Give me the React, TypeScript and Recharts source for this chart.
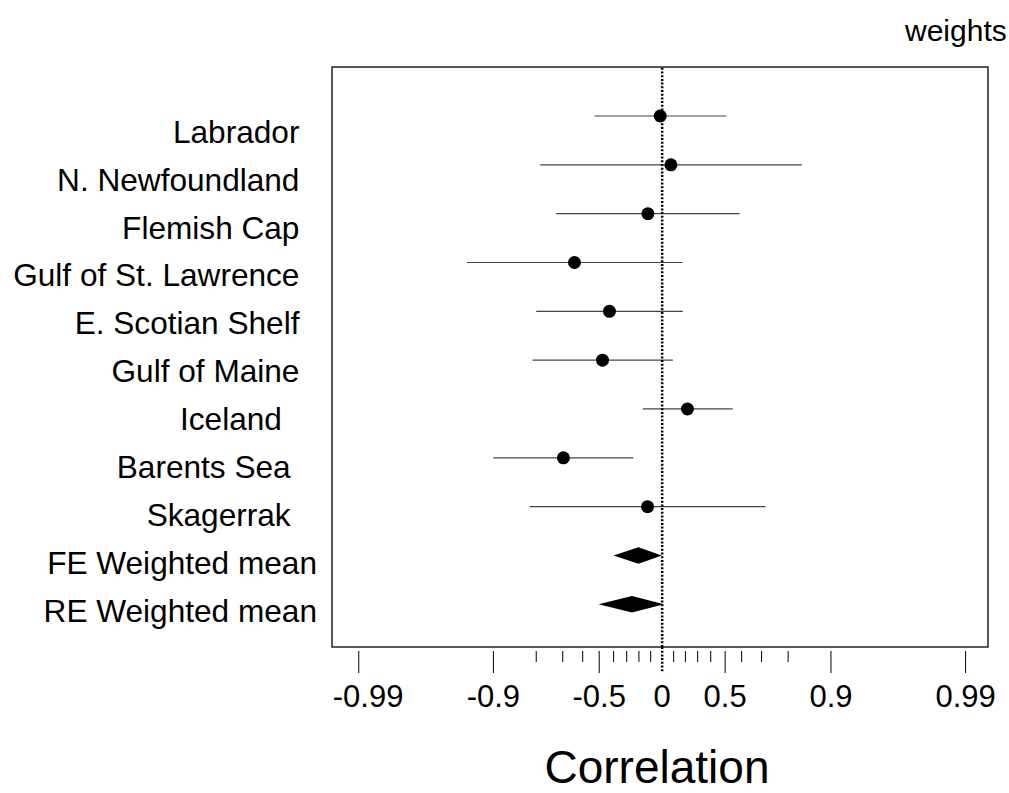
import { ComposedChart, Scatter, Area, XAxis, YAxis, ReferenceLine, ReferenceArea } from "recharts";

// study rows, top to bottom
const studies = [
  "Labrador  ",
  "N. Newfoundland  ",
  "Flemish Cap  ",
  "Gulf of St. Lawrence  ",
  "E. Scotian Shelf  ",
  "Gulf of Maine  ",
  "Iceland    ",
  "Barents Sea   ",
  "Skagerrak   ",
];
const estimate = [-0.017, 0.076, -0.124, -0.644, -0.43, -0.478, 0.217, -0.697, -0.127];
const lower = [-0.53, -0.787, -0.728, -0.936, -0.8, -0.811, -0.167, -0.9, -0.82];
const upper = [0.507, 0.839, 0.588, 0.175, 0.178, 0.093, 0.548, -0.248, 0.717];

// pooled estimates, drawn as diamonds
const pooledNames = ["FE Weighted mean", "RE Weighted mean"];
const pooledEst = [-0.204, -0.258];
const pooledLower = [-0.401, -0.504];
const pooledUpper = [-0.003, 0.017];

const majorTicks = [-0.99, -0.9, -0.5, 0, 0.5, 0.9, 0.99];
const majorLabels = ["-0.99", "-0.9", "-0.5", "0", "0.5", "0.9", "0.99"];
const minorTicks = [-0.8, -0.7, -0.6, -0.4, -0.3, -0.2, -0.1, 0.1, 0.2, 0.3, 0.4, 0.6, 0.7, 0.8];

const rowLabels = [...studies, ...pooledNames];
const FONT = "'Liberation Sans', Arial, Helvetica, sans-serif";
const X_DOMAIN: [number, number] = [-2.88, 2.842];
const Y_DOMAIN: [number, number] = [-1.004, 10.875];
const DIAMOND_H = 0.17;

// everything is plotted on Fisher's z scale
const fz = (r: number) => Math.atanh(r);

const points = estimate.map((r, i) => ({ z: fz(r), row: i }));
const intervals = studies.map((_, i) => ({ lo: fz(lower[i]), hi: fz(upper[i]), row: i }));
const diamonds = pooledNames.map((_, k) => {
  const row = studies.length + k;
  return [
    { z: fz(pooledLower[k]), band: [row, row] },
    { z: fz(pooledEst[k]), band: [row - DIAMOND_H, row + DIAMOND_H] },
    { z: fz(pooledUpper[k]), band: [row, row] },
  ];
});
const xTicks = [...majorTicks, ...minorTicks].map(fz);

function XTick(props: any) {
  const { x, y, payload } = props;
  const r = Math.tanh(payload.value);
  const idx = majorTicks.findIndex((m) => Math.abs(m - r) < 1e-6);
  if (idx < 0) {
    return <line x1={x} x2={x} y1={y + 4} y2={y + 15} stroke="#000" strokeWidth={1} />;
  }
  const zero = majorTicks[idx] === 0;
  return (
    <g>
      <line
        x1={x}
        x2={x}
        y1={zero ? y : y + 4}
        y2={y + 26}
        stroke="#000"
        strokeWidth={zero ? 2.5 : 1}
        strokeDasharray={zero ? "2 1.7" : undefined}
      />
      <text
        x={idx === 0 ? x - 26 : x}
        y={y + 60}
        textAnchor={idx === 0 ? "start" : "middle"}
        fontSize={31}
        fontFamily={FONT}
        fill="#000"
      >
        {majorLabels[idx]}
      </text>
    </g>
  );
}

function YTick(props: any) {
  const { x, y, payload } = props;
  const i = payload.value as number;
  return (
    <text
      x={x - 15}
      y={y + 26.6 - 0.88 * i}
      textAnchor="end"
      fontSize={31.6}
      fontFamily={FONT}
      fill="#000"
      style={{ whiteSpace: "pre" }}
    >
      {rowLabels[i]}
    </text>
  );
}

export default function App() {
  return (
    <div style={{ position: "absolute", left: 0, top: 0, width: 1009, height: 793, background: "#fff" }}>
      <svg width={1009} height={60} style={{ position: "absolute", left: 0, top: 0 }}>
        <text x={905} y={41} fontSize={30} fontFamily={FONT} fill="#000">
          weights
        </text>
      </svg>
      <ComposedChart
        width={1009}
        height={793}
        margin={{ top: 67, right: 21, bottom: 0, left: 0 }}
        style={{ position: "absolute", left: 0, top: 0 }}
      >
        <XAxis
          type="number"
          dataKey="z"
          domain={X_DOMAIN}
          allowDataOverflow
          ticks={xTicks}
          interval={0}
          height={146}
          axisLine={false}
          tickLine={false}
          tickSize={0}
          tickMargin={0}
          tick={<XTick />}
          label={({ viewBox }: any) => (
            <text
              x={viewBox.x + viewBox.width / 2 - 3}
              y={viewBox.y + 136}
              textAnchor="middle"
              fontSize={46}
              fontFamily={FONT}
              fill="#000"
            >
              Correlation
            </text>
          )}
        />
        <YAxis
          type="number"
          dataKey="row"
          domain={Y_DOMAIN}
          reversed
          allowDataOverflow
          ticks={rowLabels.map((_, i) => i)}
          interval={0}
          width={332}
          axisLine={false}
          tickLine={false}
          tickSize={0}
          tickMargin={0}
          tick={<YTick />}
        />
        <ReferenceArea y1={Y_DOMAIN[0]} y2={Y_DOMAIN[1]} fill="none" stroke="#222" strokeWidth={1.5} />
        {intervals.map((c) => (
          <ReferenceLine
            key={c.row}
            segment={[
              { x: c.lo, y: c.row },
              { x: c.hi, y: c.row },
            ]}
            stroke="#444"
            strokeWidth={1.2}
          />
        ))}
        <ReferenceLine x={0} stroke="#000" strokeWidth={2.5} strokeDasharray="2 1.7" />
        {diamonds.map((d, k) => (
          <Area
            key={k}
            data={d}
            dataKey="band"
            type="linear"
            fill="#000"
            fillOpacity={1}
            stroke="none"
            dot={false}
            activeDot={false}
            isAnimationActive={false}
          />
        ))}
        <Scatter
          data={points}
          fill="#000"
          isAnimationActive={false}
          shape={(p: any) => <circle cx={p.cx} cy={p.cy} r={6.5} fill="#000" />}
        />
      </ComposedChart>
    </div>
  );
}
